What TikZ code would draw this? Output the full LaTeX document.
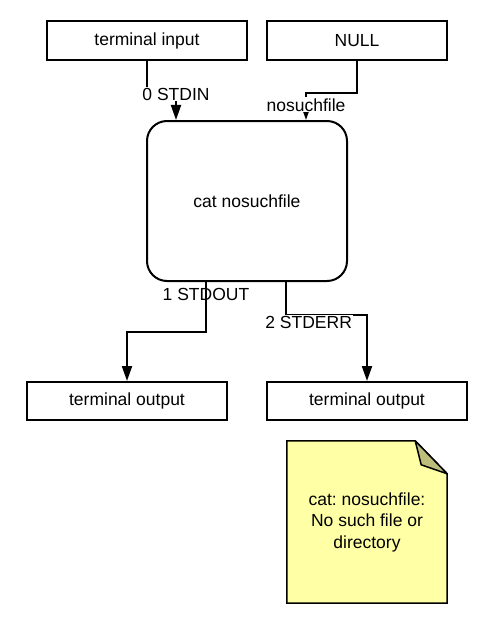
\documentclass[tikz,border=0pt]{standalone}
\usepackage{fontspec}
\setmainfont{Liberation Sans}
\usetikzlibrary{arrows.meta}
\usetikzlibrary{backgrounds}

\definecolor{notefill}{HTML}{FFFFA6}
\definecolor{foldfill}{HTML}{BDBD7C}
\frenchspacing

\begin{document}
\begin{tikzpicture}[x=1pt, y=-1pt,
  font=\fontsize{17.5}{21.5}\selectfont,
  box/.style={draw, line width=2pt, minimum width=200pt, minimum height=39pt, inner sep=0pt},
  arr/.style={line width=2pt, -{Triangle[length=15pt,width=10pt]}},
  lbl/.style={fill=white, inner sep=1pt}]
\useasboundingbox (0,0) rectangle (485,623);
\node[box]                          (input) at (147,40.5) {terminal input};
\node[box, minimum width=180pt]     (null)  at (357,40.5) {NULL};
\node[box, minimum height=160pt,
      rounded corners=20pt]         (cat)   at (247,201)  {cat nosuchfile};
\node[box, minimum height=38pt]     (outA)  at (127,401)  {terminal output};
\node[box, minimum height=38pt]     (outB)  at (367,401)  {terminal output};
\node[minimum width=160pt, minimum height=162pt, align=center]
                                    (note)  at (367,522)
  {cat: nosuchfile:\\No such file or\\directory};

\begin{scope}[on background layer]
\draw[line width=1.5pt, fill=notefill]
     (note.north west)
  -- ([xshift=-32pt]note.north east)
  -- ([yshift=-33pt]note.north east)
  -- (note.south east)
  -- (note.south west)
  -- cycle;
\draw[line width=1.5pt, fill=foldfill, line join=round]
     ([xshift=-32pt]note.north east)
  -- ([xshift=-26pt, yshift=-24pt]note.north east)
  -- ([yshift=-33pt]note.north east)
  -- cycle;
\end{scope}

\draw[arr] (input.south) -- ++(0,33)
  -| node[lbl, pos=0.5] {0 STDIN} ([xshift=30pt]cat.north west);
\draw[arr] (null.south) -- ++(0,32)
  -| node[lbl, pos=0.72] {nosuchfile} ([xshift=160pt]cat.north west);
\draw[arr] ([xshift=60pt]cat.south west)
  -- node[pos=0.24, inner sep=1pt] {1 STDOUT} ++(0,50) -| (outA.north);
\draw[arr] ([xshift=140pt]cat.south west) -- ++(0,33)
  -| node[lbl, pos=0.14, yshift=-7pt] {2 STDERR} (outB.north);
\end{tikzpicture}
\end{document}
